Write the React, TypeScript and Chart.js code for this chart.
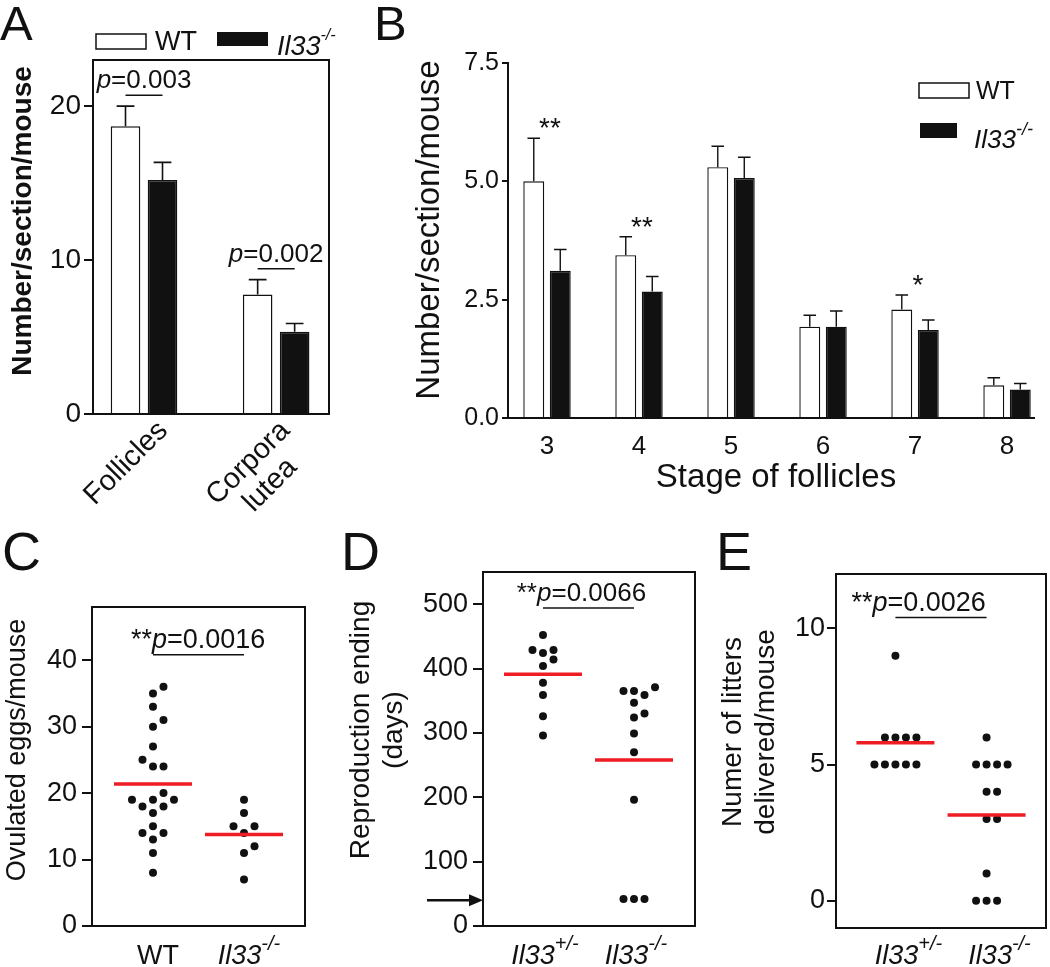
import React, { useEffect, useRef } from "react";
import { Chart, registerables } from "chart.js";

Chart.register(...registerables);

const PAGE_W = 1050;
const PAGE_H = 967;
const FONT = "'Liberation Sans', Arial, Helvetica, sans-serif";
const INK = "#111111";
const RED = "#ee1d23";

// ---------------- Panel A data ----------------
const A_CATEGORIES: (string | string[])[] = ["Follicles", ["Corpora", "lutea"]];
const A_WT = [18.7, 7.76];
const A_WT_SEM_TOP = [20.0, 8.73];
const A_KO = [15.2, 5.35];
const A_KO_SEM_TOP = [16.35, 5.88];
const A_P = ["0.003", "0.002"];
const A_Y_TICKS = [0, 10, 20];

// ---------------- Panel B data ----------------
const B_STAGES = [3, 4, 5, 6, 7, 8];
const B_WT = [5.0, 3.44, 5.3, 1.93, 2.29, 0.69];
const B_WT_SEM_TOP = [5.91, 3.83, 5.74, 2.17, 2.6, 0.85];
const B_KO = [3.11, 2.67, 5.07, 1.93, 1.86, 0.6];
const B_KO_SEM_TOP = [3.56, 2.99, 5.51, 2.26, 2.07, 0.73];
const B_STARS = ["**", "**", "", "", "*", ""];
const B_Y_TICKS = [0, 2.5, 5, 7.5];

// ---------------- Panel C data ----------------
const C_GROUPS = [
  { base: "WT", sup: "", italic: false },
  { base: "Il33", sup: "-/-", italic: true },
];
const C_WT = [36, 35, 33, 31, 30, 27, 25, 24, 24, 20, 19, 19, 19, 18, 18, 17, 15, 14, 14, 13, 11, 8];
const C_KO = [19, 17, 15, 15, 14, 12, 11, 7];
const C_P = "0.0016";
const C_P_LEVEL = 40.8;
const C_Y_TICKS = [0, 10, 20, 30, 40];

// ---------------- Panel D data ----------------
const D_GROUPS = [
  { base: "Il33", sup: "+/-", italic: true },
  { base: "Il33", sup: "-/-", italic: true },
];
const D_HET = [452, 429, 424, 429, 414, 404, 378, 359, 326, 296];
const D_KO = [371, 365, 365, 359, 347, 330, 324, 299, 270, 196, 42, 42, 42];
const D_P = "0.0066";
const D_P_LEVEL = 494;
const D_ARROW_DAYS = 40;
const D_Y_TICKS = [0, 100, 200, 300, 400, 500];

// ---------------- Panel E data ----------------
const E_GROUPS = D_GROUPS;
const E_HET = [9, 6, 6, 6, 6, 5, 5, 5, 5, 5];
const E_KO = [6, 5, 5, 5, 5, 4, 4, 3, 3, 1, 0, 0, 0];
const E_P = "0.0026";
const E_P_LEVEL = 10.4;
const E_Y_TICKS = [0, 5, 10];

// ---------------- helpers ----------------
const AXIS_W = 88;
const AXIS_H = 10;
const SLOT_PX = 10.5;
const DOT_GAP = 8;
const MEAN_HALF_PX = 39;

type Run = { t: string; size: number; italic?: boolean; bold?: boolean; dy?: number };

function fontOf(r: { size: number; italic?: boolean; bold?: boolean }) {
  return `${r.italic ? "italic " : ""}${r.bold ? "bold " : ""}${r.size}px ${FONT}`;
}

function drawRuns(ctx: CanvasRenderingContext2D, runs: Run[], x: number, y: number, align: "left" | "center" | "right" = "left") {
  ctx.save();
  let w = 0;
  for (const r of runs) {
    ctx.font = fontOf(r);
    w += ctx.measureText(r.t).width;
  }
  let cx = align === "left" ? x : align === "center" ? x - w / 2 : x - w;
  ctx.fillStyle = INK;
  ctx.textAlign = "left";
  ctx.textBaseline = "alphabetic";
  for (const r of runs) {
    ctx.font = fontOf(r);
    ctx.fillText(r.t, cx, y + (r.dy || 0));
    cx += ctx.measureText(r.t).width;
  }
  ctx.restore();
}

function drawRotated(ctx: CanvasRenderingContext2D, lines: string[], cx: number, cy: number, size: number, gap: number, bold = false) {
  ctx.save();
  ctx.translate(cx, cy);
  ctx.rotate(-Math.PI / 2);
  ctx.font = fontOf({ size, bold });
  ctx.fillStyle = INK;
  ctx.textAlign = "center";
  ctx.textBaseline = "middle";
  lines.forEach((l, k) => ctx.fillText(l, 0, (k - (lines.length - 1) / 2) * gap));
  ctx.restore();
}

function drawBox(ctx: CanvasRenderingContext2D, chart: any) {
  const a = chart.chartArea;
  ctx.save();
  ctx.strokeStyle = INK;
  ctx.lineWidth = 2;
  ctx.strokeRect(a.left, a.top, a.right - a.left, a.bottom - a.top);
  ctx.restore();
}

function drawErrorBars(chart: any, tops: number[][], lw: number) {
  const ctx = chart.ctx;
  const ys = chart.scales.y;
  ctx.save();
  ctx.strokeStyle = INK;
  ctx.lineWidth = lw;
  tops.forEach((arr, di) => {
    const meta = chart.getDatasetMeta(di);
    meta.data.forEach((el: any, i: number) => {
      const top = ys.getPixelForValue(arr[i]);
      const hw = el.width * 0.3;
      ctx.beginPath();
      ctx.moveTo(el.x, el.y);
      ctx.lineTo(el.x, top);
      ctx.moveTo(el.x - hw, top);
      ctx.lineTo(el.x + hw, top);
      ctx.stroke();
    });
  });
  ctx.restore();
}

function hLine(ctx: CanvasRenderingContext2D, x0: number, x1: number, y: number, lw = 1.5) {
  ctx.save();
  ctx.strokeStyle = INK;
  ctx.lineWidth = lw;
  ctx.beginPath();
  ctx.moveTo(x0, y);
  ctx.lineTo(x1, y);
  ctx.stroke();
  ctx.restore();
}

function areaPadding(left: number, top: number, right: number, bottom: number, xh = AXIS_H) {
  return { left: left - AXIS_W, top, right: PAGE_W - right, bottom: PAGE_H - bottom - xh };
}

function baseOptions(padding: any, scales: any) {
  return {
    responsive: false,
    animation: false,
    events: [],
    layout: { padding },
    plugins: { legend: { display: false }, tooltip: { enabled: false }, title: { display: false } },
    scales,
  };
}

function yAxis(min: number, max: number, ticks: number[], size: number, tickLength: number, pad: number, fmt = (v: number) => String(v)) {
  return {
    type: "linear",
    min,
    max,
    offset: false,
    afterFit: (s: any) => {
      s.width = AXIS_W;
    },
    afterBuildTicks: (s: any) => {
      s.ticks = ticks.map((v) => ({ value: v }));
    },
    ticks: { font: { family: FONT, size }, color: INK, padding: pad, callback: (v: any) => fmt(Number(v)) },
    grid: { display: true, drawOnChartArea: false, drawTicks: true, tickLength, color: INK, lineWidth: 2 },
    border: { display: true, color: INK, width: 2 },
  };
}

function xHidden(min: number, max: number, tickValues: number[]) {
  return {
    type: "linear",
    min,
    max,
    offset: false,
    afterFit: (s: any) => {
      s.height = AXIS_H;
    },
    afterBuildTicks: (s: any) => {
      s.ticks = tickValues.map((v) => ({ value: v }));
    },
    ticks: { display: false },
    grid: { display: false, drawTicks: false },
    border: { display: true, color: INK, width: 2 },
  };
}

function swarmSlots(values: number[], pxPerUnit: number, diam: number): number[] {
  const order = values.map((_, i) => i).sort((a, b) => values[a] - values[b] || a - b);
  const prefs = [0, 1, -1, 2, -2, 3, -3, 4, -4, 5, -5];
  const placed: { s: number; y: number }[] = [];
  const slots = new Array(values.length).fill(0);
  for (const i of order) {
    const y = values[i] * pxPerUnit;
    for (const s of prefs) {
      if (!placed.some((p) => p.s === s && Math.abs(p.y - y) < diam)) {
        slots[i] = s;
        placed.push({ s, y });
        break;
      }
    }
  }
  return slots;
}

const mean = (a: number[]) => a.reduce((s, v) => s + v, 0) / a.length;

function applySwarm(chart: any, groups: number[][]) {
  const xs = chart.scales.x;
  const ys = chart.scales.y;
  const pxu = Math.abs(xs.getPixelForValue(1) - xs.getPixelForValue(0));
  const pyu = Math.abs(ys.getPixelForValue(1) - ys.getPixelForValue(0));
  groups.forEach((vals, g) => {
    const slots = swarmSlots(vals, pyu, DOT_GAP);
    chart.data.datasets[groups.length + g].data = vals.map((v, i) => ({ x: g + (slots[i] * SLOT_PX) / pxu, y: v }));
    const m = mean(vals);
    const hw = MEAN_HALF_PX / pxu;
    chart.data.datasets[g].data = [
      { x: g - hw, y: m },
      { x: g + hw, y: m },
    ];
  });
  chart.update();
}

function scatterDatasets(groups: number[][]) {
  const lines = groups.map(() => ({
    data: [] as any[],
    showLine: true,
    borderColor: RED,
    borderWidth: 3.5,
    pointRadius: 0,
    order: 0,
  }));
  const dots = groups.map((vals, g) => ({
    data: vals.map((v) => ({ x: g, y: v })),
    pointRadius: 4,
    backgroundColor: INK,
    borderWidth: 0,
    order: 1,
  }));
  return [...lines, ...dots];
}

function drawGroupLabels(ctx: CanvasRenderingContext2D, xs: any, groups: { base: string; sup: string; italic: boolean }[], dx: number, baseline: number) {
  groups.forEach((g, i) => {
    const runs: Run[] = [{ t: g.base, size: 27, italic: g.italic }];
    if (g.sup) runs.push({ t: g.sup, size: 20, italic: g.italic, dy: -14 });
    drawRuns(ctx, runs, xs.getPixelForValue(i) + dx, baseline, "center");
  });
}

function drawPValue(ctx: CanvasRenderingContext2D, chart: any, p: string, level: number, textDx: number, size: number) {
  const xs = chart.scales.x;
  const ys = chart.scales.y;
  const x0 = xs.getPixelForValue(0);
  const x1 = xs.getPixelForValue(1);
  const y = ys.getPixelForValue(level);
  hLine(ctx, x0, x1, y, 1.5);
  const tx = x0 + textDx;
  drawRuns(ctx, [{ t: "**", size }], tx, y - 7, "right");
  drawRuns(ctx, [{ t: "p", size, italic: true }, { t: "=" + p, size }], tx, y - 7, "left");
}

// ---------------- Chart builders ----------------
function buildA() {
  const decor = {
    id: "decorA",
    afterDraw(chart: any) {
      const ctx: CanvasRenderingContext2D = chart.ctx;
      const xs = chart.scales.x;
      const ys = chart.scales.y;
      drawBox(ctx, chart);
      drawErrorBars(chart, [A_WT_SEM_TOP, A_KO_SEM_TOP], 1.6);
      const m0 = chart.getDatasetMeta(0);
      const m1 = chart.getDatasetMeta(1);
      A_P.forEach((p, i) => {
        const x0 = m0.data[i].x;
        const x1 = m1.data[i].x;
        const y = Math.min(ys.getPixelForValue(A_WT_SEM_TOP[i]), ys.getPixelForValue(A_KO_SEM_TOP[i])) - 11;
        hLine(ctx, x0, x1, y, 1.5);
        drawRuns(ctx, [{ t: "p", size: 26, italic: true }, { t: "=" + p, size: 26 }], xs.getPixelForValue(i), y - 7, "center");
      });
      // rotated category labels
      A_CATEGORIES.forEach((lab, i) => {
        const lines = Array.isArray(lab) ? lab : [lab];
        const cx = xs.getPixelForValue(i);
        ctx.save();
        ctx.font = fontOf({ size: 29 });
        const bw = Math.max(...lines.map((l) => ctx.measureText(l).width));
        ctx.translate(cx + 9 - (lines.length - 1) * 10, 416);
        ctx.rotate(-Math.PI / 4);
        ctx.fillStyle = INK;
        ctx.textAlign = "center";
        ctx.textBaseline = "top";
        lines.forEach((l, k) => ctx.fillText(l, -bw / 2, k * 31));
        ctx.restore();
      });
      drawRotated(ctx, ["Number/section/mouse"], 23, 221, 28, 0, true);
      // legend
      ctx.save();
      ctx.lineWidth = 1.5;
      ctx.strokeStyle = INK;
      ctx.fillStyle = "#fff";
      ctx.fillRect(96, 34, 50, 15);
      ctx.strokeRect(96, 34, 50, 15);
      ctx.fillStyle = INK;
      ctx.fillRect(217, 32, 51, 14);
      ctx.restore();
      drawRuns(ctx, [{ t: "WT", size: 27 }], 155, 50);
      drawRuns(ctx, [{ t: "Il33", size: 27, italic: true }, { t: "-/-", size: 16, italic: true, dy: -15 }], 277, 55);
      drawRuns(ctx, [{ t: "A", size: 49 }], 0, 40);
    },
  };
  const bar = { categoryPercentage: 0.56, barPercentage: 0.8, borderColor: INK, borderWidth: 1.5 };
  return {
    config: {
      type: "bar",
      data: {
        datasets: [
          { label: "WT", data: A_WT.map((y, i) => ({ x: i, y })), backgroundColor: "#ffffff", ...bar },
          { label: "Il33-/-", data: A_KO.map((y, i) => ({ x: i, y })), backgroundColor: INK, ...bar },
        ],
      },
      options: baseOptions(areaPadding(93, 60, 329, 414), {
        x: xHidden(-0.386, 1.4, A_CATEGORIES.map((_, i) => i)),
        y: yAxis(0, 23, A_Y_TICKS, 28, 9, 3),
      }),
      plugins: [decor],
    },
  };
}

function buildB() {
  const decor = {
    id: "decorB",
    afterDraw(chart: any) {
      const ctx: CanvasRenderingContext2D = chart.ctx;
      const xs = chart.scales.x;
      const ys = chart.scales.y;
      drawErrorBars(chart, [B_WT_SEM_TOP, B_KO_SEM_TOP], 1.4);
      B_STARS.forEach((s, i) => {
        if (!s) return;
        const x = xs.getPixelForValue(B_STAGES[i]) + 3;
        const y = ys.getPixelForValue(Math.max(B_WT_SEM_TOP[i], B_KO_SEM_TOP[i])) - 1;
        drawRuns(ctx, [{ t: s, size: 28 }], x, y, "center");
      });
      drawRotated(ctx, ["Number/section/mouse"], 430, 230, 33, 0);
      drawRuns(ctx, [{ t: "Stage of follicles", size: 33 }], 776, 487, "center");
      ctx.save();
      ctx.lineWidth = 1.5;
      ctx.strokeStyle = INK;
      ctx.fillStyle = "#fff";
      ctx.fillRect(919, 83, 50, 15);
      ctx.strokeRect(919, 83, 50, 15);
      ctx.fillStyle = INK;
      ctx.fillRect(920, 123, 37, 15);
      ctx.restore();
      drawRuns(ctx, [{ t: "WT", size: 25 }], 976, 98.5);
      drawRuns(ctx, [{ t: "Il33", size: 26, italic: true }, { t: "-/-", size: 18, italic: true, dy: -13 }], 974, 148);
      drawRuns(ctx, [{ t: "B", size: 49 }], 374, 40);
    },
  };
  const bar = { categoryPercentage: 0.576, barPercentage: 0.79, borderColor: INK, borderWidth: 1.4 };
  const B_AXIS_H = 50;
  return {
    config: {
      type: "bar",
      data: {
        datasets: [
          { label: "WT", data: B_WT.map((y, i) => ({ x: B_STAGES[i], y })), backgroundColor: "#ffffff", ...bar },
          { label: "Il33-/-", data: B_KO.map((y, i) => ({ x: B_STAGES[i], y })), backgroundColor: INK, ...bar },
        ],
      },
      options: baseOptions(areaPadding(508, 63, 1034, 418, B_AXIS_H), {
        x: {
          type: "linear",
          min: 2.576,
          max: 8.293,
          offset: false,
          afterFit: (s: any) => {
            s.height = B_AXIS_H;
          },
          afterBuildTicks: (s: any) => {
            s.ticks = B_STAGES.map((v) => ({ value: v }));
          },
          ticks: { font: { family: FONT, size: 26 }, color: INK, padding: 13, callback: (v: any) => String(v) },
          grid: { display: false, drawTicks: false },
          border: { display: true, color: INK, width: 2 },
        },
        y: yAxis(0, 7.5, B_Y_TICKS, 25, 6, 3, (v) => v.toFixed(1)),
      }),
      plugins: [decor],
    },
  };
}

function buildScatter(
  id: string,
  groups: number[][],
  area: [number, number, number, number],
  xRange: [number, number],
  yRange: [number, number],
  yTicks: number[],
  tickLen: number,
  tickPad: number,
  draw: (ctx: CanvasRenderingContext2D, chart: any) => void
) {
  const decor = {
    id,
    afterDraw(chart: any) {
      drawBox(chart.ctx, chart);
      draw(chart.ctx, chart);
    },
  };
  return {
    config: {
      type: "scatter",
      data: { datasets: scatterDatasets(groups) },
      options: baseOptions(areaPadding(area[0], area[1], area[2], area[3]), {
        x: xHidden(xRange[0], xRange[1], groups.map((_, i) => i)),
        y: yAxis(yRange[0], yRange[1], yTicks, 27, tickLen, tickPad),
      }),
      plugins: [decor],
    },
    after: (chart: any) => applySwarm(chart, groups),
  };
}

function buildC() {
  return buildScatter("decorC", [C_WT, C_KO], [92, 607, 305, 926], [-0.67, 1.67], [0, 48], C_Y_TICKS, 10, 5, (ctx, chart) => {
    drawPValue(ctx, chart, C_P, C_P_LEVEL, -1, 27);
    drawGroupLabels(ctx, chart.scales.x, C_GROUPS, 5, 964);
    drawRotated(ctx, ["Ovulated eggs/mouse"], 18, 750, 27, 0);
    drawRuns(ctx, [{ t: "C", size: 54 }], 2, 570);
  });
}

function buildD() {
  return buildScatter("decorD", [D_HET, D_KO], [483, 572, 695, 926], [-0.659, 1.67], [0, 550], D_Y_TICKS, 10, 5, (ctx, chart) => {
    drawPValue(ctx, chart, D_P, D_P_LEVEL, -6, 26);
    drawGroupLabels(ctx, chart.scales.x, D_GROUPS, 2, 964);
    drawRotated(ctx, ["Reproduction ending", "(days)"], 377.5, 730, 28, 33);
    // arrow marking the end of the experiment
    const y = chart.scales.y.getPixelForValue(D_ARROW_DAYS);
    const left = chart.chartArea.left;
    ctx.save();
    ctx.strokeStyle = INK;
    ctx.fillStyle = INK;
    ctx.lineWidth = 2.5;
    ctx.beginPath();
    ctx.moveTo(left - 56, y);
    ctx.lineTo(left - 12, y);
    ctx.stroke();
    ctx.beginPath();
    ctx.moveTo(left - 14, y - 6);
    ctx.lineTo(left, y);
    ctx.lineTo(left - 14, y + 6);
    ctx.closePath();
    ctx.fill();
    ctx.restore();
    drawRuns(ctx, [{ t: "D", size: 54 }], 341, 570);
  });
}

function buildE() {
  return buildScatter("decorE", [E_HET, E_KO], [836, 574, 1048, 928], [-0.652, 1.652], [-1, 12], E_Y_TICKS, 9, 2, (ctx, chart) => {
    drawPValue(ctx, chart, E_P, E_P_LEVEL, -23, 27);
    drawGroupLabels(ctx, chart.scales.x, E_GROUPS, 13, 964);
    drawRotated(ctx, ["Numer of litters", "delivered/mouse"], 749.5, 732, 28, 33);
    drawRuns(ctx, [{ t: "E", size: 54 }], 716, 570);
  });
}

function ChartLayer({ build }: { build: () => any }) {
  const ref = useRef<HTMLCanvasElement>(null);
  useEffect(() => {
    const b = build();
    const chart = new Chart(ref.current as HTMLCanvasElement, b.config as any);
    if (b.after) b.after(chart);
    return () => chart.destroy();
  }, []);
  return (
    <canvas
      ref={ref}
      width={PAGE_W}
      height={PAGE_H}
      style={{ position: "absolute", left: 0, top: 0, width: PAGE_W, height: PAGE_H }}
    />
  );
}

export default function App() {
  return (
    <div
      style={{
        position: "absolute",
        left: 0,
        top: 0,
        width: PAGE_W,
        height: PAGE_H,
        overflow: "hidden",
        background: "#ffffff",
      }}
    >
      <ChartLayer build={buildA} />
      <ChartLayer build={buildB} />
      <ChartLayer build={buildC} />
      <ChartLayer build={buildD} />
      <ChartLayer build={buildE} />
    </div>
  );
}
